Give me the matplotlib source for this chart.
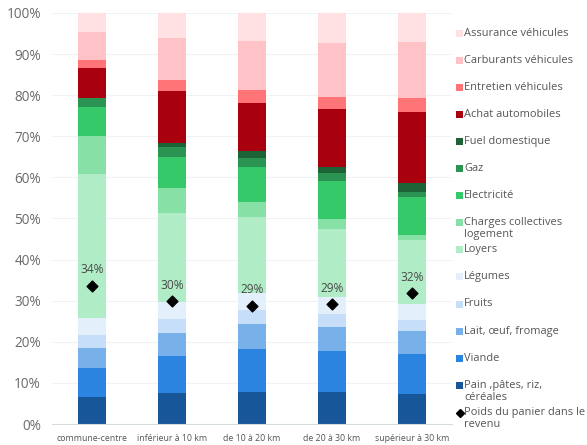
import matplotlib.pyplot as plt
import numpy as np
from matplotlib.patches import Rectangle
from matplotlib.lines import Line2D

plt.rcParams['font.family'] = ['Open Sans', 'DejaVu Sans']

# Catégories (distance à la commune-centre)
categories = ["commune-centre", "inférieur à 10 km", "de 10 à 20 km",
              "de 20 à 30 km", "supérieur à 30 km"]

# Parts du panier (%), de bas en haut
pain = [6.6, 7.5, 7.9, 7.7, 7.3]
viande = [7.1, 9.1, 10.3, 10.0, 9.7]
lait = [4.9, 5.5, 6.1, 6.0, 5.6]
fruits = [3.1, 3.4, 3.4, 3.0, 2.7]
legumes = [4.2, 4.3, 4.2, 4.3, 3.9]
loyers = [34.9, 21.6, 18.4, 16.5, 15.6]
charges = [9.3, 5.9, 3.6, 2.3, 1.2]
electricite = [6.9, 7.7, 8.7, 9.4, 9.3]
gaz = [2.4, 2.5, 2.2, 1.8, 1.1]
fuel = [0.0, 0.8, 1.5, 1.6, 2.2]
achat = [7.1, 12.8, 11.7, 14.1, 17.4]
entretien = [2.1, 2.6, 3.3, 2.9, 3.2]
carburants = [6.8, 10.1, 11.9, 13.0, 13.8]
assurance = [4.6, 6.2, 6.8, 7.4, 7.0]

# Poids du panier dans le revenu (%)
poids = [33.7, 29.9, 28.8, 29.1, 31.8]
poids_labels = ["34%", "30%", "29%", "29%", "32%"]

series = [
    ("Pain ,pâtes, riz,\ncéréales", pain, "#175699"),
    ("Viande", viande, "#2b84df"),
    ("Lait, œuf, fromage", lait, "#78b0ea"),
    ("Fruits", fruits, "#c7defa"),
    ("Légumes", legumes, "#e4effc"),
    ("Loyers", loyers, "#b0ecc6"),
    ("Charges collectives\nlogement", charges, "#87e0a5"),
    ("Electricité", electricite, "#35c96a"),
    ("Gaz", gaz, "#2b9452"),
    ("Fuel domestique", fuel, "#1d6337"),
    ("Achat automobiles", achat, "#a8000f"),
    ("Entretien véhicules", entretien, "#ff7477"),
    ("Carburants véhicules", carburants, "#ffc3c7"),
    ("Assurance véhicules", assurance, "#ffe1e4"),
]

fig = plt.figure(figsize=(5.87, 4.45), dpi=100)
ax = fig.add_axes([0.0886, 0.047, 0.6814, 0.924])

x = np.arange(len(categories))
bottom = np.zeros(len(categories))
for name, vals, col in series:
    ax.bar(x, vals, 0.36, bottom=bottom, color=col, edgecolor='none', zorder=2)
    bottom += np.array(vals)

ax.scatter(x, poids, marker='D', s=30, color='black', zorder=4)
for xi, p, lab in zip(x, poids, poids_labels):
    ax.annotate(lab, (xi, p), xytext=(0, 11.5), textcoords='offset points',
                ha='center', va='center', fontsize=8.6, color='#4a4a4a', zorder=5)

ax.set_xlim(-0.5, 4.5)
ax.set_ylim(0, 100)
ax.set_yticks(np.arange(0, 101, 10))
ax.set_yticklabels([f"{v}%" for v in range(0, 101, 10)])
ax.set_xticks(x)
ax.set_xticklabels(categories)
ax.tick_params(axis='y', length=0, pad=8, labelsize=9.8, labelcolor='#6a6a6a')
ax.tick_params(axis='x', length=0, pad=7, labelsize=6.3, labelcolor='#555555')
ax.grid(axis='y', color='#eef3f8', linewidth=0.8, zorder=0)
for s in ['top', 'right', 'left']:
    ax.spines[s].set_visible(False)
ax.spines['bottom'].set_color('#d6dbe0')
ax.spines['bottom'].set_linewidth(0.8)

# Légende dessinée à la main (pas régulier)
W, H = 587, 445
pitch = 27.1
y0 = 33
legend_items = [(n, c) for n, v, c in series[::-1]]
for i, (name, col) in enumerate(legend_items):
    yc = y0 + i * pitch
    fig.patches.append(Rectangle((456 / W, 1 - (yc + 3.5) / H), 7 / W, 7 / H,
                                 transform=fig.transFigure, color=col, lw=0))
    fig.text(464 / W, 1 - (yc - 5.5) / H, name, fontsize=7.9, color='#555555',
             va='top', ha='left', linespacing=1.1)
yc = y0 + len(legend_items) * pitch + 0.5
fig.lines.append(Line2D([459.5 / W], [1 - yc / H], marker='D', markersize=4,
                        color='black', transform=fig.transFigure))
fig.text(464 / W, 1 - (yc - 5.5) / H, "Poids du panier dans le\nrevenu",
         fontsize=7.9, color='#555555', va='top', ha='left', linespacing=1.1)

fig.savefig("out.png", dpi=100)
